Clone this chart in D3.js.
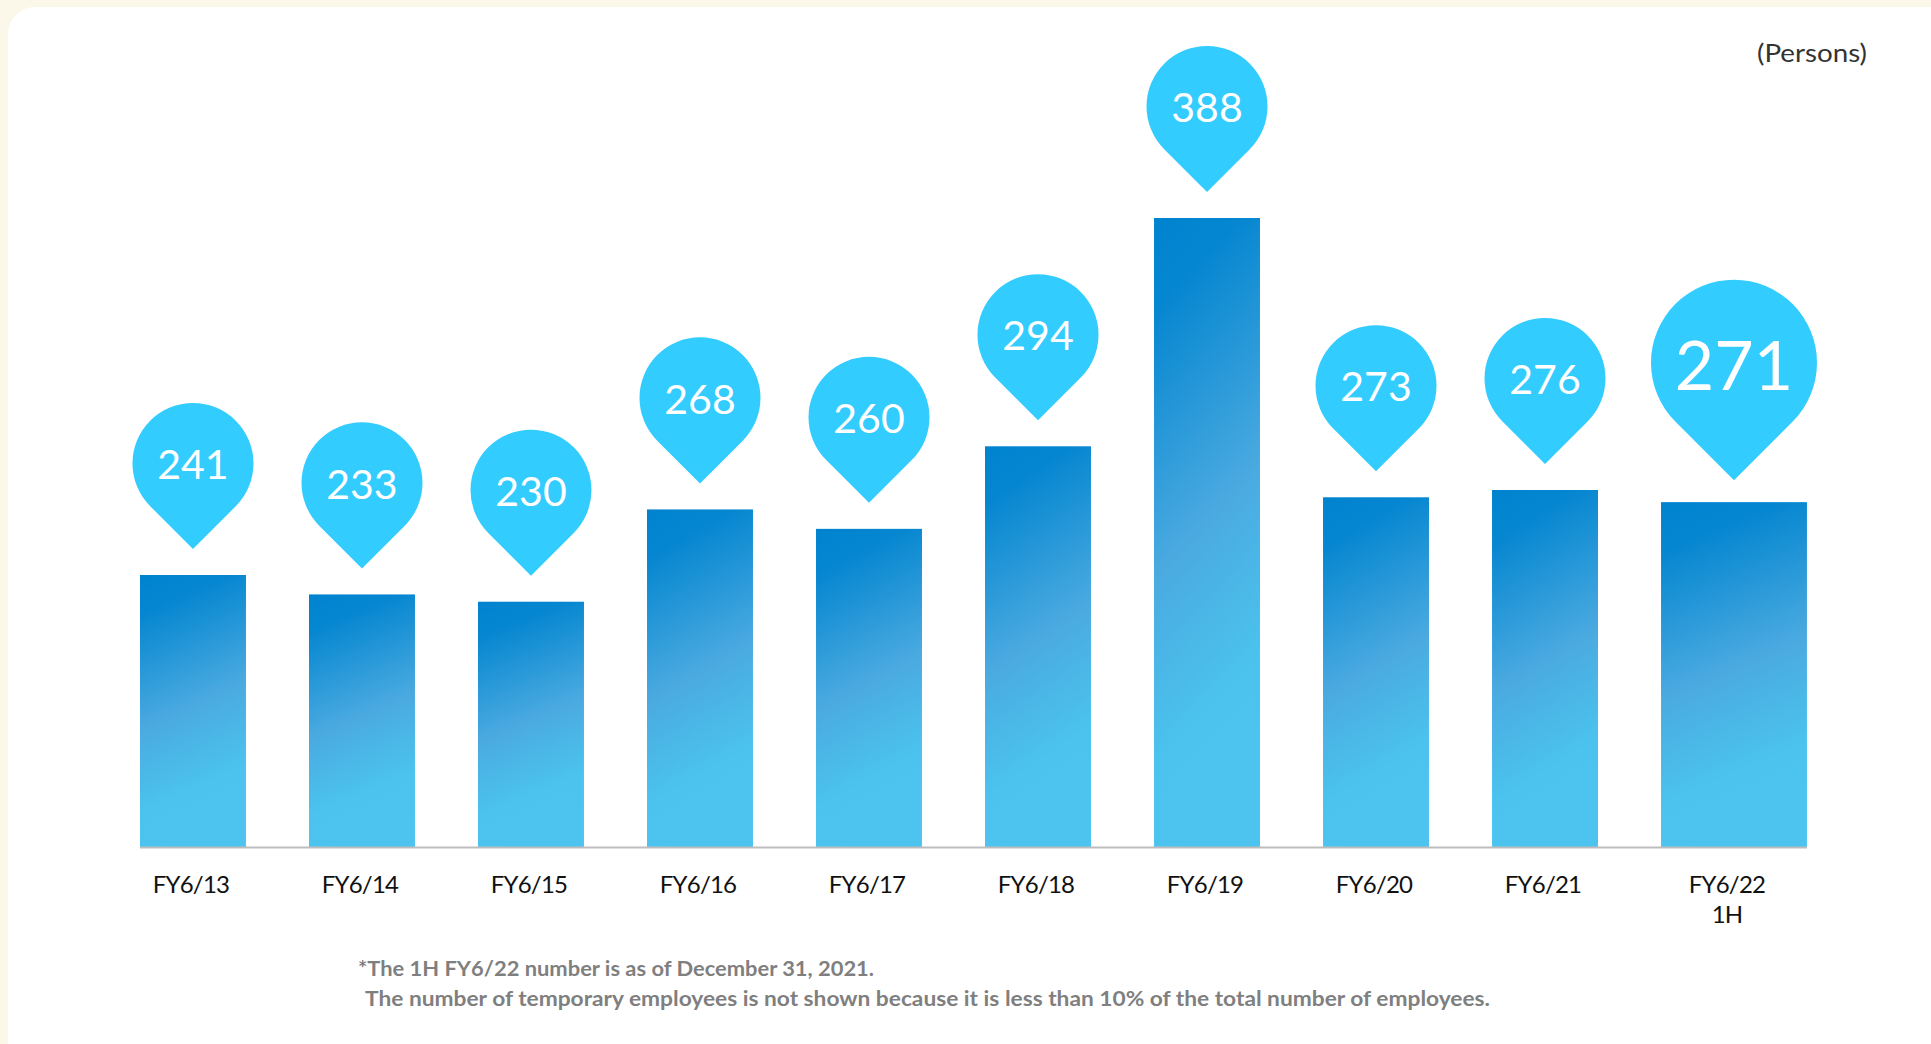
<!DOCTYPE html>
<html>
<head>
<meta charset="utf-8">
<script src="https://cdn.jsdelivr.net/npm/d3@7"></script>
<style>
  html, body { margin: 0; padding: 0; background: #fbf8ea; }
  svg { display: block; }
</style>
</head>
<body>
<svg id="chart" width="1931" height="1044"></svg>
<script>
// Number of employees by fiscal year (persons)
const categories = ["FY6/13", "FY6/14", "FY6/15", "FY6/16", "FY6/17", "FY6/18", "FY6/19", "FY6/20", "FY6/21", "FY6/22 1H"];
const values = [241, 233, 230, 268, 260, 294, 388, 273, 276, 271];
const unitLabel = "(Persons)";
const footnotes = [
  "*The 1H FY6/22 number is as of December 31, 2021.",
  "The number of temporary employees is not shown because it is less than 10% of the total number of employees."
];

const data = categories.map((c, i) => ({ cat: c, value: values[i], half: c.includes("1H") }));

const svg = d3.select("#chart");
const W = 1931, H = 1044;
const baseY = 847;

// panel
svg.append("rect")
  .attr("x", 8).attr("y", 7)
  .attr("width", W + 40).attr("height", H + 40)
  .attr("rx", 27).attr("ry", 27)
  .attr("fill", "#ffffff");

// bar gradient
const defs = svg.append("defs");
const grad = defs.append("linearGradient")
  .attr("id", "barGrad")
  .attr("x1", 0).attr("y1", 0).attr("x2", 0.18).attr("y2", 1);
grad.append("stop").attr("offset", "0%").attr("stop-color", "#0083cf");
grad.append("stop").attr("offset", "14%").attr("stop-color", "#0586d0");
grad.append("stop").attr("offset", "55%").attr("stop-color", "#4aaae0");
grad.append("stop").attr("offset", "85%").attr("stop-color", "#4bc3ee");
grad.append("stop").attr("offset", "100%").attr("stop-color", "#4cc4ef");

const x = d3.scaleBand()
  .domain(categories)
  .range([140, 1767])
  .paddingInner(0.373)
  .paddingOuter(0);

const y = d3.scaleLinear()
  .domain([129, d3.max(values)])
  .range([baseY, 218]);

// the half-year bar is drawn wider than the full-year bars
const barW = d => d.half ? x.bandwidth() * 1.377 : x.bandwidth();
const barCx = d => x(d.cat) + barW(d) / 2;

// bars
svg.append("g")
  .selectAll("rect")
  .data(data)
  .join("rect")
  .attr("x", d => x(d.cat))
  .attr("y", d => y(d.value))
  .attr("width", d => barW(d))
  .attr("height", d => baseY - y(d.value))
  .attr("fill", "url(#barGrad)");

// baseline
const last = data[data.length - 1];
svg.append("line")
  .attr("x1", x(categories[0]))
  .attr("x2", x(last.cat) + barW(last))
  .attr("y1", baseY + 0.5).attr("y2", baseY + 0.5)
  .attr("stroke", "#bdbdbd")
  .attr("stroke-width", 2);

// value pins
function pinPath(r) {
  const d = r * Math.SQRT2;
  const k = r / Math.SQRT2;
  return `M0,0 L${-k},${-d + k} A${r},${r} 0 1 1 ${k},${-d + k} Z`;
}
const pins = svg.append("g")
  .selectAll("g")
  .data(data)
  .join("g")
  .attr("transform", d => {
    const gap = d.half ? 22 : 26;
    return `translate(${barCx(d)},${y(d.value) - gap})`;
  });
pins.append("path")
  .attr("d", d => pinPath(d.half ? 83 : 60.5))
  .attr("fill", "#33ccff");
pins.append("text")
  .attr("x", 0)
  .attr("y", d => {
    const r = d.half ? 83 : 60.5;
    const fs = d.half ? 68 : 41;
    return -r * Math.SQRT2 + fs * 0.36 + (d.half ? 3 : 1);
  })
  .attr("text-anchor", "middle")
  .attr("font-family", "Lato, 'Open Sans', sans-serif")
  .attr("font-size", d => d.half ? 68 : 41)
  .attr("fill", "#ffffff")
  .text(d => d.value);

// category labels
const labels = svg.append("g")
  .selectAll("text")
  .data(data)
  .join("text")
  .attr("x", d => barCx(d) - (d.half ? 7 : 2))
  .attr("y", 893)
  .attr("text-anchor", "middle")
  .attr("font-family", "Lato, 'Open Sans', sans-serif")
  .attr("font-size", 24)
  .attr("letter-spacing", -0.8)
  .attr("fill", "#111111");
labels.selectAll("tspan")
  .data(d => d.cat.split(" "))
  .join("tspan")
  .attr("x", function () { return d3.select(this.parentNode).attr("x"); })
  .attr("dy", (t, i) => i === 0 ? 0 : 30)
  .text(t => t);

// unit label
svg.append("text")
  .attr("x", 1867).attr("y", 62)
  .attr("text-anchor", "end")
  .attr("font-family", "Lato, 'Open Sans', sans-serif")
  .attr("font-size", 25)
  .attr("textLength", 110)
  .attr("lengthAdjust", "spacingAndGlyphs")
  .attr("fill", "#333333")
  .text(unitLabel);

// footnotes
const noteX = [358, 365], noteY = [976, 1006], noteLen = [516, 1125];
svg.append("g")
  .selectAll("text")
  .data(footnotes)
  .join("text")
  .attr("x", (d, i) => noteX[i])
  .attr("y", (d, i) => noteY[i])
  .attr("textLength", (d, i) => noteLen[i])
  .attr("lengthAdjust", "spacingAndGlyphs")
  .attr("font-family", "Lato, 'Open Sans', sans-serif")
  .attr("font-weight", 700)
  .attr("font-size", 20)
  .attr("fill", "#7f7f7f")
  .text(d => d);
</script>
</body>
</html>
